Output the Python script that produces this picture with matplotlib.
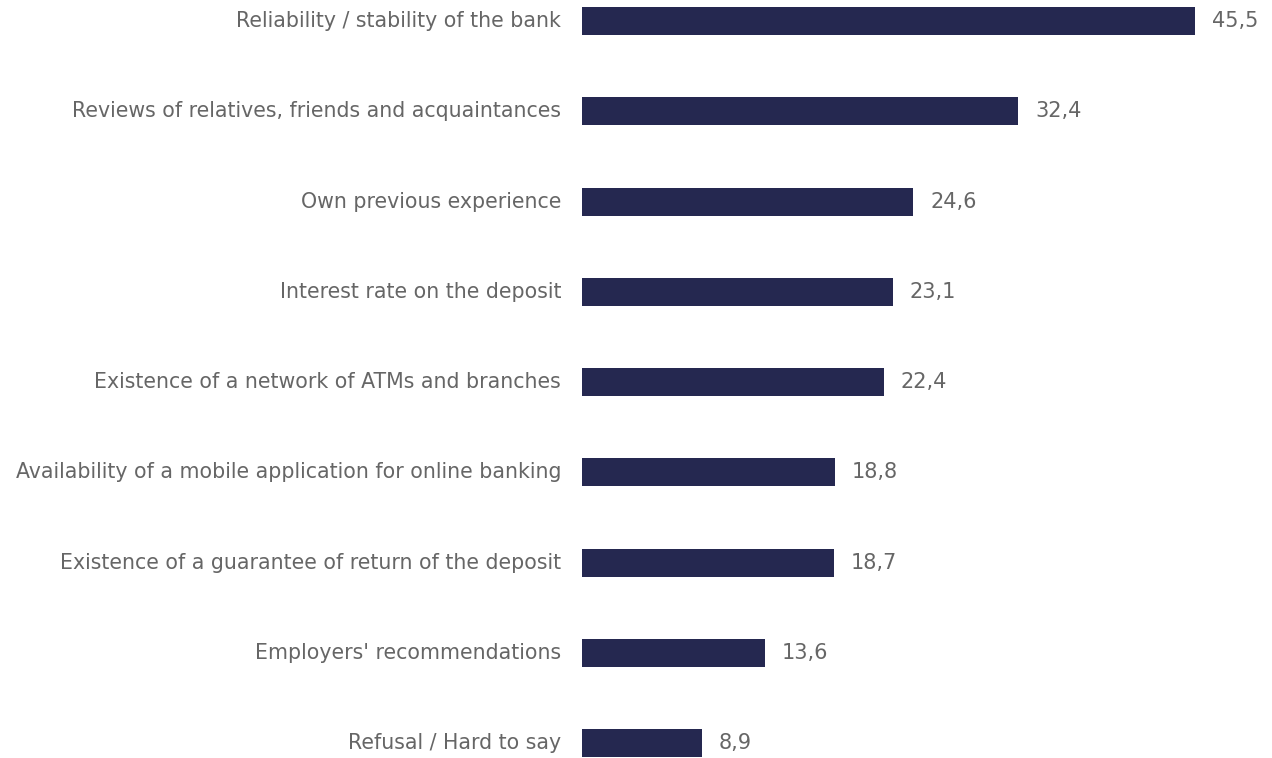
import matplotlib
matplotlib.use('Agg')
import matplotlib.pyplot as plt
import numpy as np

# reasons for choosing a bank for a deposit, % of respondents
categories = [
    'Reliability / stability of the bank',
    'Reviews of relatives, friends and acquaintances',
    'Own previous experience',
    'Interest rate on the deposit',
    'Existence of a network of ATMs and branches',
    'Availability of a mobile application for online banking',
    'Existence of a guarantee of return of the deposit',
    "Employers' recommendations",
    'Refusal / Hard to say',
]
values = [45.5, 32.4, 24.6, 23.1, 22.4, 18.8, 18.7, 13.6, 8.9]

bar_color = '#252850'
text_color = '#666666'

plt.rcParams['font.family'] = ['DejaVu Sans']

fig = plt.figure(figsize=(12.72, 7.58), dpi=100)
ax = fig.add_axes([0.4575, 0.0, 0.5296, 1.0])

y = np.arange(len(categories))
ax.barh(y, values, height=0.31, color=bar_color)

for yi, v in zip(y, values):
    ax.annotate('{:.1f}'.format(v).replace('.', ','), xy=(v, yi),
                xytext=(12, 0), textcoords='offset points',
                va='center', ha='left', fontsize=15, color=text_color)

ax.set_xlim(0, 50)
ax.set_ylim(8.166, -0.233)
ax.set_yticks(y)
ax.set_yticklabels(categories, fontsize=14.8, color=text_color, va='center')
ax.tick_params(axis='y', length=0, pad=15)
ax.set_xticks([])
for s in ax.spines.values():
    s.set_visible(False)

fig.savefig('out.png', dpi=100)
